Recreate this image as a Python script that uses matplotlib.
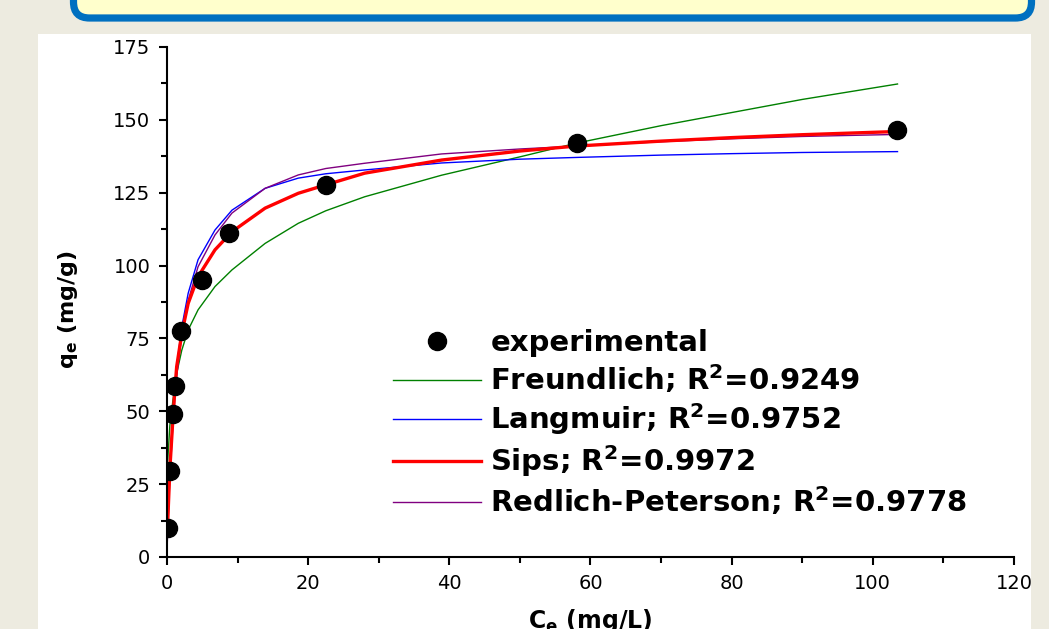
import matplotlib
matplotlib.use("Agg")
import matplotlib.pyplot as plt
from matplotlib.patches import Rectangle, FancyBboxPatch
from matplotlib.lines import Line2D
from matplotlib.ticker import MultipleLocator

plt.rcParams["font.family"] = ["DejaVu Sans"]
plt.rcParams["mathtext.fontset"] = "dejavusans"

# * - - - Experimental points (Ce in mg/L, qe in mg/g)
ce_exp = [0.1, 0.4, 0.85, 1.1, 2.0, 5.0, 8.8, 22.5, 58.1, 103.4]
qe_exp = [10, 29.5, 49, 58.7, 77.6, 95, 111.2, 127.7, 142, 146.5]

# * - - - Model curves, values
ce_fit = [0.03, 0.1, 0.4, 0.85, 1.1, 1.37, 2.1, 3.0, 4.4, 6.8, 9.2, 13.9,
          18.6, 22.5, 28, 38.9, 50, 58, 70, 80, 90, 103.5]
q_freundlich = [22, 33, 45, 54, 58, 63, 71, 77.9, 84.8, 92.8, 98.5, 107.6,
                114.5, 118.8, 123.6, 131, 137.3, 142, 148, 152.5, 157, 162.3]
q_langmuir = [8, 12, 31, 50, 57, 65.3, 79, 90.5, 102, 112.2, 119, 126.5,
              130, 131.5, 132.8, 135.2, 136.5, 137.1, 137.9, 138.4, 138.8, 139.1]
q_sips = [8, 12, 30, 48, 57, 65.3, 76.8, 87, 96.2, 105.4, 111.6, 119.7,
          124.8, 127.7, 131.7, 136.2, 139.3, 141, 142.7, 143.9, 144.9, 146]
q_redlich = [4, 9, 27, 46, 54, 62, 76, 88, 99.6, 110.5, 118, 126.5,
             131.1, 133.3, 135.1, 138.3, 140, 141, 142.5, 143.5, 144.3, 145]

labels = ["experimental",
          r"Freundlich; R$^\mathbf{2}$=0.9249",
          r"Langmuir; R$^\mathbf{2}$=0.9752",
          r"Sips; R$^\mathbf{2}$=0.9972",
          r"Redlich-Peterson; R$^\mathbf{2}$=0.9778"]

fig = plt.figure(figsize=(10.49, 6.29), dpi=100)
fig.patch.set_facecolor("#EDEBE0")

# * - - - Slide decorations: white panel and title box
fig.patches.append(Rectangle((0.38, 0.0), 9.93, 5.955, transform=fig.dpi_scale_trans,
                             facecolor="white", edgecolor="none", zorder=-10))
fig.patches.append(FancyBboxPatch((0.735, 6.11), 9.58, 1.0,
                                  boxstyle="round,pad=0,rounding_size=0.16",
                                  transform=fig.dpi_scale_trans,
                                  facecolor="#FFFFCC", edgecolor="#0070C0",
                                  linewidth=5.2, zorder=-10))

ax = fig.add_axes([0.1592, 0.1145, 0.8074, 0.8108])
ax.set_facecolor("none")

ax.plot(ce_fit, q_freundlich, color="#008000", lw=1.0)
ax.plot(ce_fit, q_langmuir, color="#0000FF", lw=1.0)
ax.plot(ce_fit, q_redlich, color="#800080", lw=1.0)
ax.plot(ce_fit, q_sips, color="#FF0000", lw=2.4)
ax.plot(ce_exp, qe_exp, "o", color="black", markersize=13, zorder=5)

ax.set_xlim(0, 120)
ax.set_ylim(0, 175)
ax.xaxis.set_major_locator(MultipleLocator(20))
ax.xaxis.set_minor_locator(MultipleLocator(10))
ax.yaxis.set_major_locator(MultipleLocator(25))
ax.yaxis.set_minor_locator(MultipleLocator(12.5))

for side in ["top", "right"]:
    ax.spines[side].set_visible(False)
for side in ["left", "bottom"]:
    ax.spines[side].set_linewidth(1.5)

ax.tick_params(which="major", direction="out", length=6, width=1.5,
               labelsize=14, pad=6)
ax.tick_params(which="minor", direction="out", length=4, width=1.5)

ax.set_xlabel(r"C$_\mathbf{e}$ (mg/L)", fontsize=17, fontweight="bold", labelpad=10)
ax.set_ylabel(r"q$_\mathbf{e}$ (mg/g)", fontsize=16, fontweight="bold")
ax.yaxis.set_label_coords(-0.103, 0.484)

# * - - - Legend without frame
handles = [Line2D([], [], ls="none", marker="o", color="black", markersize=13),
           Line2D([], [], color="#008000", lw=1.0),
           Line2D([], [], color="#0000FF", lw=1.0),
           Line2D([], [], color="#FF0000", lw=2.4),
           Line2D([], [], color="#800080", lw=1.0)]
leg = ax.legend(handles, labels, loc="upper left", bbox_to_anchor=(0.267, 0.447),
                frameon=False, borderpad=0, borderaxespad=0, handlelength=3.0,
                handletextpad=0.33, labelspacing=0.2,
                prop={"size": 21, "weight": "bold"})

fig.savefig("out.png", dpi=100, facecolor=fig.get_facecolor())
